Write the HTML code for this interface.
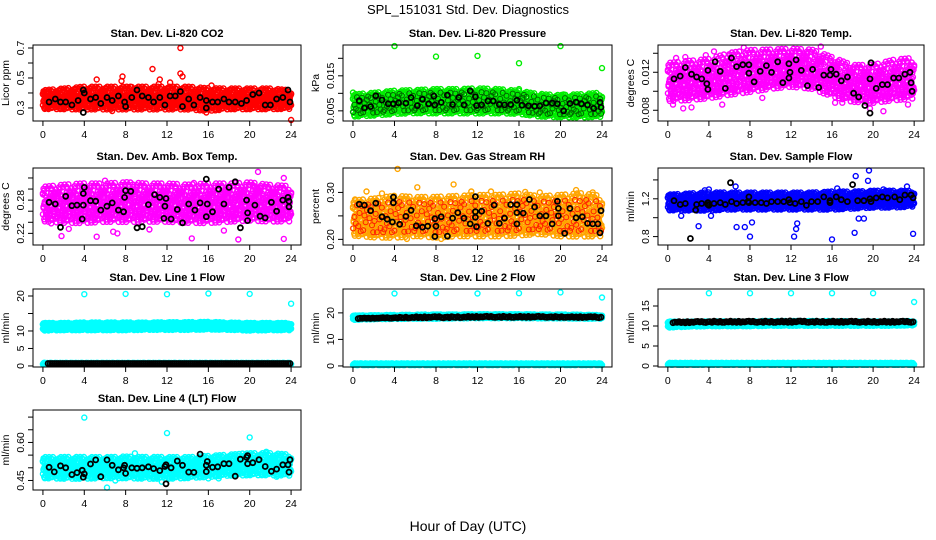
<!DOCTYPE html>
<html><head><meta charset="utf-8">
<style>
body{margin:0;background:#fff;}
svg{display:block;font-family:"Liberation Sans",sans-serif;}
</style></head>
<body>
<svg id="chart" width="936" height="540" viewBox="0 0 936 540">
<text x="468" y="14" text-anchor="middle" font-size="13">SPL_151031  Std. Dev. Diagnostics</text>
<text x="468" y="531" text-anchor="middle" font-size="14">Hour of Day (UTC)</text>
</svg>
<script>
// ---- shared data ----
const xTicks = [0,4,8,12,16,20,24];
const bandHours = [0,2,4,6,8,10,12,14,16,18,20,22,24];

// Panel 1: CO2
const co2Lo = [0.31,0.31,0.31,0.31,0.31,0.31,0.31,0.31,0.30,0.31,0.31,0.31,0.31];
const co2Hi = [0.40,0.41,0.42,0.42,0.42,0.42,0.42,0.42,0.41,0.41,0.41,0.41,0.40];
const co2Out = [[13.3,0.70],[10.6,0.56],[5.2,0.49],[13.3,0.53],[13.5,0.51],[7.7,0.51],[7.6,0.48],[12.3,0.47],[16.3,0.45],[24,0.22],[11.3,0.49],[11.2,0.46],[8.6,0.44],[15.8,0.27],[6.7,0.28],[0.1,0.40],[0.2,0.30]];
const co2Black = [[0.6,0.34],[1.2,0.36],[1.7,0.34],[2.2,0.34],[2.8,0.32],[3.4,0.35],[3.9,0.27],[3.9,0.42],[4,0.40],[4.6,0.36],[5.1,0.37],[5.6,0.33],[6.2,0.37],[6.7,0.35],[7.3,0.38],[7.9,0.34],[8,0.31],[8.6,0.37],[9.1,0.42],[9.6,0.38],[10.2,0.37],[10.7,0.34],[11.3,0.37],[11.8,0.32],[12.3,0.38],[12.8,0.38],[13.3,0.41],[13.5,0.31],[14.1,0.36],[14.6,0.32],[15.2,0.37],[15.8,0.30],[15.8,0.35],[16.4,0.34],[16.9,0.34],[17.5,0.36],[18,0.34],[18.6,0.34],[19.2,0.33],[19.7,0.35],[20.3,0.39],[20.9,0.40],[21.5,0.32],[22,0.32],[22.6,0.36],[23.2,0.37],[23.7,0.42],[23.9,0.34]];
const co2Ticks = [0.3,0.4,0.5,0.6,0.7];
const co2Labels = ["0.3","","0.5","","0.7"];

// Panel 2: Pressure
const prLo = [0.0042,0.0045,0.0050,0.0052,0.0052,0.0052,0.0052,0.0052,0.0050,0.0042,0.0040,0.0040,0.0042];
const prHi = [0.0088,0.0092,0.0098,0.0100,0.0102,0.0102,0.0104,0.0102,0.0098,0.0088,0.0086,0.0088,0.0092];
const prOut = [[4,0.0235],[20,0.0235],[8,0.0205],[12,0.0207],[16,0.0186],[24,0.0172],[0,0.0102],[23.4,0.0035],[8.1,0.0112],[16,0.0112],[18.2,0.0098],[20.3,0.0097],[13.1,0.0100]];
const prBlack = [[0.6,0.0079],[1.1,0.0058],[1.7,0.0062],[2.2,0.0093],[2.8,0.0081],[3.4,0.0070],[3.9,0.0070],[4.4,0.0073],[5.1,0.0072],[5.6,0.0088],[6.2,0.0065],[6.7,0.0083],[7.3,0.0070],[7.8,0.0092],[7.9,0.0067],[8.5,0.0074],[9.1,0.0095],[9.6,0.0068],[10.2,0.0088],[10.7,0.0067],[11.3,0.0107],[11.8,0.0090],[11.9,0.0065],[12.4,0.0067],[13,0.0078],[13.5,0.0078],[14.1,0.0068],[14.6,0.0067],[15.2,0.0068],[15.8,0.0080],[16.3,0.0066],[16.9,0.0064],[17.5,0.0063],[18,0.0064],[18.6,0.0072],[19.2,0.0072],[19.7,0.0070],[20.3,0.0050],[20.9,0.0071],[21.5,0.0075],[22,0.0070],[22.6,0.0067],[23.2,0.0057],[23.8,0.0074],[23.9,0.0060]];
const prTicks = [0.005,0.010,0.015,0.020];
const prLabels = ["0.005","","0.015",""];

// Panel 3: Li-820 Temp
const ltLo = [0.0095,0.0096,0.0098,0.0102,0.0105,0.0108,0.0110,0.0108,0.0100,0.0094,0.0093,0.0096,0.0098];
const ltHi = [0.0124,0.0126,0.0128,0.0134,0.0137,0.0138,0.0139,0.0138,0.0130,0.0122,0.0122,0.0127,0.0129];
const ltOut = [[0.5,0.0086],[1.5,0.0082],[2.3,0.0083],[5.3,0.0086],[9.2,0.0093],[7.4,0.0146],[14.9,0.0147],[4.5,0.0142],[21,0.0079],[19.7,0.0082],[23.4,0.0086],[16.3,0.0088],[17,0.0088],[0.8,0.0135],[1.7,0.0136],[3.7,0.0138],[6,0.0139],[13.5,0.0141]];
const ltBlack = [[0.6,0.0113],[1.2,0.0116],[1.7,0.0125],[2.3,0.0118],[2.8,0.0115],[3.3,0.0113],[3.8,0.0108],[3.9,0.0102],[3.9,0.0122],[4.6,0.0131],[5.1,0.0121],[5.6,0.0103],[6.2,0.0135],[6.7,0.0126],[7.3,0.0128],[7.9,0.0128],[7.9,0.0119],[8.4,0.0110],[9,0.0121],[9.6,0.0127],[10.1,0.0120],[10.7,0.0131],[11.2,0.0109],[11.8,0.0114],[11.8,0.0129],[11.9,0.0120],[12.5,0.0133],[13,0.0122],[13.6,0.0106],[14.1,0.0123],[14.7,0.0104],[15.2,0.0117],[15.8,0.0117],[15.9,0.0123],[16.4,0.0118],[16.9,0.0111],[17.5,0.0115],[18.1,0.0098],[18.6,0.0094],[19.2,0.0085],[19.7,0.0113],[19.7,0.0077],[19.8,0.0130],[20.3,0.0103],[20.9,0.0107],[21.4,0.0107],[22,0.0114],[22.5,0.0114],[23.1,0.0118],[23.6,0.0120],[23.7,0.0109],[23.8,0.0100]];
const ltTicks = [0.008,0.010,0.012,0.014];
const ltLabels = ["0.008","","0.012",""];

// Panel 4: Amb Box Temp
const abLo = [0.250,0.248,0.248,0.250,0.250,0.250,0.250,0.248,0.248,0.250,0.252,0.250,0.250];
const abHi = [0.295,0.298,0.300,0.300,0.302,0.300,0.300,0.298,0.300,0.300,0.302,0.298,0.296];
const abOut = [[1.8,0.215],[5.2,0.214],[6,0.315],[14.4,0.211],[18.9,0.209],[20.8,0.331],[23.3,0.320],[23.3,0.210],[10.3,0.227],[17.5,0.225],[6.8,0.223],[7.2,0.220],[0.8,0.238],[2.5,0.228],[14.6,0.311],[20.5,0.305],[8.7,0.308]];
const abBlack = [[0.6,0.276],[1.2,0.273],[1.7,0.231],[2.2,0.287],[2.8,0.270],[3.3,0.271],[3.8,0.246],[3.9,0.292],[3.9,0.271],[4,0.303],[4.6,0.279],[5.1,0.278],[5.6,0.262],[6.2,0.269],[6.7,0.275],[7.3,0.262],[7.8,0.259],[7.9,0.285],[8,0.297],[8.5,0.296],[9.1,0.230],[9.6,0.232],[10.2,0.272],[10.8,0.290],[11.3,0.285],[11.7,0.247],[11.8,0.269],[11.9,0.283],[12.4,0.246],[13,0.263],[13.5,0.239],[14.1,0.273],[14.7,0.262],[15.2,0.275],[15.8,0.250],[15.9,0.273],[15.8,0.318],[16.4,0.259],[17,0.300],[17.5,0.273],[18,0.303],[18.6,0.313],[19.1,0.230],[19.7,0.280],[19.8,0.257],[19.8,0.243],[20.5,0.271],[21,0.251],[21.5,0.248],[22.1,0.276],[22.6,0.260],[23.2,0.280],[23.7,0.285],[23.8,0.278],[23.8,0.268]];
const abTicks = [0.22,0.24,0.26,0.28,0.30,0.32];
const abLabels = ["0.22","","","0.28","",""];

// Panel 5: Gas Stream RH
const rhLo = [0.218,0.215,0.215,0.218,0.215,0.218,0.218,0.218,0.220,0.222,0.218,0.218,0.218];
const rhHi = [0.272,0.275,0.280,0.278,0.278,0.280,0.282,0.282,0.285,0.280,0.282,0.285,0.280];
const rhOut = [[4.3,0.350],[5.2,0.201],[8.5,0.201],[9.7,0.317],[6.2,0.311],[1.3,0.302],[2.8,0.298],[21.5,0.305],[23.1,0.300],[11.4,0.302],[13.3,0.302],[16.6,0.301],[18,0.300],[0.2,0.285],[10.1,0.212],[23,0.207],[1.7,0.213],[17.3,0.213]];
const rhBlack = [[0.6,0.275],[1.1,0.273],[1.7,0.261],[2.2,0.277],[2.8,0.248],[3.3,0.243],[3.8,0.237],[3.9,0.278],[3.9,0.290],[4.5,0.232],[5.1,0.249],[5.6,0.262],[6.1,0.229],[6.7,0.226],[7.2,0.228],[7.9,0.244],[7.9,0.206],[8,0.228],[8.5,0.248],[9.1,0.207],[9.6,0.245],[10.1,0.257],[10.7,0.245],[11.3,0.233],[11.8,0.259],[11.8,0.291],[11.8,0.247],[11.9,0.227],[12.4,0.260],[13,0.234],[13.6,0.273],[14.1,0.234],[14.6,0.245],[15.2,0.274],[15.8,0.274],[15.8,0.257],[15.8,0.233],[16.4,0.256],[17,0.285],[17.5,0.269],[18,0.250],[18.6,0.250],[19.2,0.233],[19.7,0.281],[19.8,0.266],[19.8,0.250],[20.4,0.213],[20.9,0.266],[21.5,0.246],[22.1,0.248],[22.6,0.234],[23.1,0.233],[23.6,0.233],[23.8,0.214],[23.9,0.261]];
const rhTicks = [0.20,0.25,0.30];
const rhLabels = ["0.20","","0.30"];

// Panel 6: Sample Flow
const sfLo = [1.10,1.10,1.10,1.11,1.11,1.11,1.11,1.11,1.11,1.12,1.13,1.13,1.14];
const sfHi = [1.22,1.23,1.24,1.24,1.24,1.24,1.24,1.24,1.25,1.25,1.26,1.26,1.26];
const sfOut = [[4,1.30],[5.2,1.25],[6.6,1.33],[6.7,0.90],[7.5,0.90],[8,0.80],[8.2,0.95],[3,0.91],[1.3,1.02],[4.2,1.02],[12.3,0.80],[12.5,0.88],[12.6,0.94],[16,0.77],[18.2,0.84],[18.3,1.44],[19.6,1.50],[19.5,1.39],[23.9,0.83],[23.3,1.33],[18.6,0.99],[19.1,0.99],[21,1.30],[3.6,1.29],[16.5,1.31]];
const sfBlack = [[0.6,1.18],[1.2,1.14],[1.7,1.15],[2.2,0.78],[2.7,1.08],[2.8,1.14],[3.3,1.15],[3.9,1.16],[3.9,1.14],[4,1.13],[4.5,1.15],[5.1,1.16],[5.6,1.14],[6.1,1.37],[6.2,1.17],[6.7,1.15],[7.3,1.16],[7.8,1.17],[7.9,1.22],[7.9,1.16],[8.5,1.16],[9.1,1.16],[9.6,1.15],[10.1,1.17],[10.7,1.17],[11.3,1.17],[11.8,1.19],[11.9,1.16],[12.4,1.15],[13,1.17],[13.5,1.13],[14,1.17],[14.6,1.17],[15.2,1.22],[15.8,1.18],[15.8,1.16],[16.4,1.22],[16.9,1.19],[17.5,1.17],[18,1.35],[18.5,1.18],[19.1,1.18],[19.7,1.20],[19.8,1.17],[20.3,1.21],[20.9,1.22],[21.4,1.21],[22.1,1.22],[22.6,1.19],[23.1,1.24],[23.7,1.24],[23.9,1.21]];
const sfTicks = [0.8,1.0,1.2,1.4];
const sfLabels = ["0.8","","1.2",""];

// Panel 7: Line 1 Flow
const l1Lo = [10.4,10.5,10.5,10.5,10.5,10.6,10.6,10.6,10.7,10.6,10.4,10.5,10.5];
const l1Hi = [12.0,12.0,12.1,12.1,12.1,12.1,12.2,12.2,12.3,12.1,12.0,12.0,12.0];
const l1BaseLo = [0.5,0.5,0.5,0.5,0.5,0.5,0.5,0.5,0.5,0.5,0.5,0.5,0.5];
const l1BaseHi = [0.9,0.9,0.9,0.9,0.9,0.9,0.9,0.9,0.9,0.9,0.9,0.9,0.9];
const l1Out = [[4,20.5],[8,20.6],[12,20.5],[16,20.7],[20,20.6],[24,17.8],[0.1,0.9]];
const l1BlackLo = [0.7,0.7,0.7,0.7,0.7,0.7,0.7,0.7,0.7,0.7,0.7,0.7,0.7];
const l1BlackHi = [0.7,0.7,0.7,0.7,0.7,0.7,0.7,0.7,0.7,0.7,0.7,0.7,0.7];
const l1Ticks = [0,5,10,15,20];
const l1Labels = ["0","5","10","","20"];

// Panel 8: Line 2 Flow
const l2Lo = [17.6,17.8,17.9,18.0,18.0,18.1,18.2,18.2,18.2,18.1,18.1,18.0,18.0];
const l2Hi = [18.8,18.9,19.0,19.1,19.2,19.2,19.3,19.3,19.3,19.2,19.2,19.1,19.0];
const l2BaseLo = [0.3,0.3,0.3,0.3,0.3,0.3,0.3,0.3,0.3,0.3,0.3,0.3,0.3];
const l2BaseHi = [1.0,1.0,1.0,1.0,1.0,1.0,1.0,1.0,1.0,1.0,1.0,1.0,1.0];
const l2Out = [[4,27.3],[8,27.4],[12,27.3],[16,27.4],[20,27.7],[24,25.8]];
const l2BlackLo = [17.8,17.9,18.0,18.1,18.1,18.2,18.3,18.3,18.3,18.3,18.3,18.2,18.2];
const l2BlackHi = [18.0,18.1,18.3,18.5,18.6,18.6,18.7,18.7,18.7,18.7,18.6,18.6,18.6];
const l2Ticks = [0,10,20];
const l2Labels = ["0","10","20"];

// Panel 9: Line 3 Flow
const l3Lo = [9.8,10.0,10.1,10.1,10.1,10.2,10.2,10.2,10.2,10.2,10.2,10.2,10.3];
const l3Hi = [10.9,10.9,11.0,11.0,11.0,11.1,11.1,11.1,11.1,11.0,11.0,11.0,11.1];
const l3BaseLo = [0.3,0.3,0.3,0.3,0.3,0.3,0.3,0.3,0.3,0.3,0.3,0.3,0.3];
const l3BaseHi = [0.8,0.8,0.8,0.8,0.8,0.8,0.8,0.8,0.8,0.8,0.8,0.8,0.8];
const l3Out = [[4,18.2],[8,18.2],[12,18.2],[16,18.2],[20,18.2],[24,16.0]];
const l3BlackLo = [10.8,10.8,10.9,10.9,10.9,10.9,10.9,10.9,10.9,10.9,10.9,10.9,10.9];
const l3BlackHi = [11.1,11.1,11.2,11.2,11.2,11.2,11.3,11.2,11.2,11.2,11.2,11.2,11.2];
const l3Ticks = [0,5,10,15];
const l3Labels = ["0","5","10","15"];

// Panel 10: Line 4 (LT) Flow
const l4Lo = [0.470,0.468,0.468,0.470,0.470,0.468,0.468,0.470,0.475,0.480,0.482,0.482,0.480];
const l4Hi = [0.530,0.530,0.530,0.530,0.532,0.530,0.530,0.530,0.535,0.540,0.545,0.545,0.540];
const l4Out = [[4,0.698],[12,0.637],[20,0.620],[6.2,0.422],[8.9,0.557],[21.6,0.563],[19.3,0.556],[16,0.458],[17,0.458],[0.5,0.478],[1.7,0.460],[7,0.450],[11.5,0.445],[22.6,0.465]];
const l4Black = [[0.6,0.502],[1.1,0.484],[1.7,0.508],[2.2,0.500],[2.8,0.473],[3.3,0.481],[3.8,0.490],[3.9,0.463],[4,0.476],[4.6,0.515],[5.1,0.531],[5.6,0.465],[6.2,0.531],[6.7,0.510],[7.3,0.492],[7.8,0.500],[7.9,0.510],[8,0.478],[8.6,0.500],[9.1,0.498],[9.6,0.500],[10.2,0.504],[10.7,0.497],[11.3,0.489],[11.8,0.505],[11.9,0.512],[11.9,0.437],[12.4,0.500],[13,0.527],[13.5,0.510],[14.1,0.483],[14.6,0.482],[15.2,0.554],[15.8,0.485],[15.8,0.510],[15.9,0.525],[16.4,0.502],[16.9,0.504],[17.5,0.516],[18,0.516],[18.6,0.467],[19.1,0.534],[19.7,0.541],[19.8,0.548],[19.8,0.516],[20.3,0.520],[20.9,0.532],[21.5,0.505],[22.1,0.486],[22.6,0.495],[23.2,0.512],[23.7,0.512],[23.8,0.483],[23.9,0.532]];
const l4Ticks = [0.45,0.50,0.55,0.60,0.65,0.70];
const l4Labels = ["0.45","","","0.60","",""];

// ---- layout / rendering texture (not data) ----
const rows = [[45,121],[168,245],[289,367],[410,490]];
const cols = [[33,301],[343,612],[658,924]];
const texture = [0.1,0.55,0.3,1.12,0.2,0.7,-0.1,0.95,0.05,0.6,0.35,0.8,1.2,0.5,0.9,0.25,-0.18,0.4,0.65,0.0,1.05,0.45,0.15,0.85,-0.05];
const NS = 'http://www.w3.org/2000/svg';
const svg = document.getElementById('chart');

function mk(tag, attrs, parent){
  const e = document.createElementNS(NS, tag);
  for (const k in attrs) e.setAttribute(k, attrs[k]);
  parent.appendChild(e);
  return e;
}
function interp(knots, t){
  const i = Math.min(Math.floor(t/2), knots.length-2);
  const f = (t - bandHours[i])/2;
  return knots[i]*(1-f) + knots[i+1]*f;
}

function panel(p){
  const [L,R] = cols[p.c], [T,B] = rows[p.r];
  const g = mk('g', {}, svg);
  
  
  const xs = h => L + (h + 0.96)/25.92*(R-L);
  const ys = v => B - (v - p.ymin)/(p.ymax - p.ymin)*(B-T);
  const marks = mk('g', {fill:'none'}, g);
  
  
  const dot = (h, v, col, sw) => {
    const y = ys(v); if (y < T-3 || y > B+3) return;
    const c = mk('circle', {cx:xs(h).toFixed(1), cy:y.toFixed(1), r:2.5, stroke:col, 'stroke-width':sw||1.4}, marks);
    
    
  };
  const band = (lo, hi, col, step, per, start, end, sw, clamp) => {
    let i = 0;
    for (let t = start; t <= end; t += step, i++){
      const a = interp(lo, t), b = interp(hi, t);
      for (let k=0;k<per;k++){
        let f = texture[(i*per + k*7) % texture.length];
        if (clamp) f = Math.min(1, Math.max(0, f));
        dot(t, a + (b-a)*f, col, sw);
      }
    }
  };
  (p.bands||[]).forEach(bd => band(bd[0], bd[1], p.color, 0.06, bd[2]||3, 0, 24, 1.4, bd[2]===1));
  (p.out||[]).forEach(o => dot(o[0], o[1], p.color));
  if (p.inner) (p.bands||[]).slice(0,1).forEach(bd => band(bd[0], bd[1], p.inner, 0.12, 1, 0.03, 24, 1, true));
  (p.blackBands||[]).forEach(bd => band(bd[0], bd[1], '#000', 0.2, 1, 0.5, 24, 1.8, true));
  (p.black||[]).forEach(o => dot(o[0], o[1], '#000', 1.8));
  const box = mk('rect', {x:L, y:T, width:R-L, height:B-T, fill:'none', stroke:'#000', 'stroke-width':1}, g);
  
  
  const xa = mk('g', {stroke:'#000','stroke-width':1}, g);
  
  
  mk('line', {x1:xs(0), x2:xs(24), y1:B, y2:B}, xa);
  xTicks.forEach(t => {
    mk('line', {x1:xs(t), x2:xs(t), y1:B, y2:B+5}, xa);
    const tx = mk('text', {x:xs(t), y:B+17, 'text-anchor':'middle','font-size':10.5, stroke:'none'}, xa);
    tx.textContent = t;
    
    
  });
  const ya = mk('g', {stroke:'#000','stroke-width':1}, g);
  
  
  mk('line', {x1:L, x2:L, y1:ys(p.ticks[0]), y2:ys(p.ticks[p.ticks.length-1])}, ya);
  p.ticks.forEach((t, i) => {
    const y = ys(t);
    mk('line', {x1:L-5, x2:L, y1:y, y2:y}, ya);
    if (p.labels[i]) {
      const tx = mk('text', {x:0, y:0, transform:`translate(${L-9},${y}) rotate(-90)`, 'text-anchor':'middle','font-size':10.5, stroke:'none'}, ya);
      tx.textContent = p.labels[i];
      
      
    }
  });
  const yl = mk('text', {x:0,y:0, transform:`translate(${L-24},${(T+B)/2}) rotate(-90)`, 'text-anchor':'middle','font-size':10.5}, g);
  yl.textContent = p.ylab;
  
  
  const ti = mk('text', {x:(L+R)/2, y:T-8, 'text-anchor':'middle','font-size':11,'font-weight':'bold'}, g);
  ti.textContent = p.title;
  
  
}

panel({name:'panel-co2', r:0,c:0, title:'Stan. Dev. Li-820 CO2', ylab:'Licor ppm', color:'#ff0000', ymin:0.213, ymax:0.72, ticks:co2Ticks, labels:co2Labels, bands:[[co2Lo,co2Hi]], out:co2Out, black:co2Black});
panel({name:'panel-pressure', r:0,c:1, title:'Stan. Dev. Li-820 Pressure', ylab:'kPa', color:'#00ee00', inner:'#006600', ymin:0.0021, ymax:0.0238, ticks:prTicks, labels:prLabels, bands:[[prLo,prHi]], out:prOut, black:prBlack});
panel({name:'panel-licor-temp', r:0,c:2, title:'Stan. Dev. Li-820 Temp.', ylab:'degrees C', color:'#ff00ff', ymin:0.00687, ymax:0.01487, ticks:ltTicks, labels:ltLabels, bands:[[ltLo,ltHi]], out:ltOut, black:ltBlack});
panel({name:'panel-amb-box-temp', r:1,c:0, title:'Stan. Dev. Amb. Box Temp.', ylab:'degrees C', color:'#ff00ff', ymin:0.199, ymax:0.338, ticks:abTicks, labels:abLabels, bands:[[abLo,abHi]], out:abOut, black:abBlack});
panel({name:'panel-gas-stream-rh', r:1,c:1, title:'Stan. Dev. Gas Stream RH', ylab:'percent', color:'#ffa500', inner:'#ff2000', ymin:0.188, ymax:0.352, ticks:rhTicks, labels:rhLabels, bands:[[rhLo,rhHi]], out:rhOut, black:rhBlack});
panel({name:'panel-sample-flow', r:1,c:2, title:'Stan. Dev. Sample Flow', ylab:'ml/min', color:'#0000ff', ymin:0.711, ymax:1.526, ticks:sfTicks, labels:sfLabels, bands:[[sfLo,sfHi]], out:sfOut, black:sfBlack});
panel({name:'panel-line1-flow', r:2,c:0, title:'Stan. Dev. Line 1 Flow', ylab:'ml/min', color:'#00ffff', ymin:-0.3, ymax:22, ticks:l1Ticks, labels:l1Labels, bands:[[l1Lo,l1Hi],[l1BaseLo,l1BaseHi,1]], out:l1Out, blackBands:[[l1BlackLo,l1BlackHi]]});
panel({name:'panel-line2-flow', r:2,c:1, title:'Stan. Dev. Line 2 Flow', ylab:'ml/min', color:'#00ffff', ymin:-0.4, ymax:29, ticks:l2Ticks, labels:l2Labels, bands:[[l2Lo,l2Hi],[l2BaseLo,l2BaseHi,1]], out:l2Out, blackBands:[[l2BlackLo,l2BlackHi]]});
panel({name:'panel-line3-flow', r:2,c:2, title:'Stan. Dev. Line 3 Flow', ylab:'ml/min', color:'#00ffff', ymin:-0.25, ymax:19.25, ticks:l3Ticks, labels:l3Labels, bands:[[l3Lo,l3Hi],[l3BaseLo,l3BaseHi,1]], out:l3Out, blackBands:[[l3BlackLo,l3BlackHi]]});
panel({name:'panel-line4-flow', r:3,c:0, title:'Stan. Dev. Line 4 (LT) Flow', ylab:'ml/min', color:'#00ffff', ymin:0.4124, ymax:0.728, ticks:l4Ticks, labels:l4Labels, bands:[[l4Lo,l4Hi]], out:l4Out, black:l4Black});
</script>
</body></html>
